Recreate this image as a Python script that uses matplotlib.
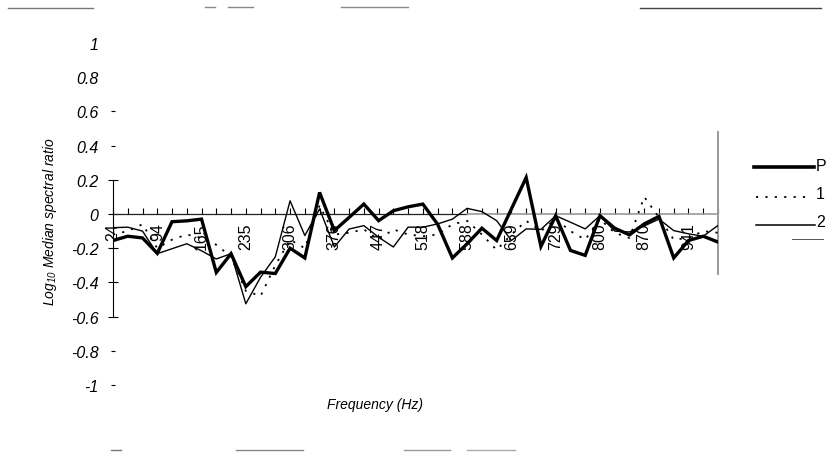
import matplotlib
matplotlib.use("Agg")
import matplotlib.pyplot as plt
from matplotlib.lines import Line2D

plt.rcParams.update({
    "font.family": ["Liberation Sans", "DejaVu Sans"],
    "mathtext.fontset": "custom",
    "mathtext.it": "Liberation Sans:italic",
    "mathtext.rm": "Liberation Sans:italic",
    "figure.facecolor": "white",
    "axes.facecolor": "white",
})

# -----------------------------
# Data
# -----------------------------
freq = [24, 47, 71, 94, 118, 141, 165, 188, 212, 235, 259, 282, 306, 329,
        353, 376, 400, 424, 447, 471, 494, 518, 541, 565, 588, 612, 635, 659,
        682, 706, 729, 753, 776, 800, 823, 847, 870, 894, 918, 941, 965, 988]

ratio_p = [-0.155, -0.13, -0.14, -0.23, -0.045, -0.04, -0.03, -0.342, -0.232,
           -0.425, -0.34, -0.348, -0.20, -0.257, 0.126, -0.097, -0.02, 0.058,
           -0.039, 0.019, 0.042, 0.058, -0.06, -0.257, -0.174, -0.083, -0.155,
           0.03, 0.213, -0.19, -0.01, -0.213, -0.242, -0.01, -0.083, -0.122,
           -0.058, -0.014, -0.257, -0.155, -0.13, -0.164]

ratio_1 = [-0.12, -0.10, -0.06, -0.20, -0.15, -0.12, -0.14, -0.18, -0.25,
           -0.45, -0.48, -0.30, -0.15, -0.20, 0.05, -0.12, -0.11, -0.09,
           -0.15, -0.09, -0.12, -0.13, -0.12, -0.06, -0.04, -0.12, -0.21,
           -0.12, -0.04, -0.10, -0.03, -0.10, -0.15, -0.03, -0.11, -0.14,
           0.10, -0.02, -0.15, -0.14, -0.10, -0.11]

ratio_2 = [-0.08, -0.077, -0.10, -0.232, -0.203, -0.174, -0.215, -0.263, -0.232,
           -0.525, -0.37, -0.25, 0.077, -0.126, 0.03, -0.193, -0.088, -0.068,
           -0.136, -0.193, -0.077, -0.077, -0.058, -0.03, 0.033, 0.014, -0.039,
           -0.155, -0.087, -0.09, -0.01, -0.048, -0.087, -0.01, -0.10, -0.105,
           -0.07, -0.03, -0.097, -0.116, -0.13, -0.067]

ytick_vals = [1, 0.8, 0.6, 0.4, 0.2, 0, -0.2, -0.4, -0.6, -0.8, -1]
ytick_text = ["1", "0.8", "0.6", "0.4", "0.2", "0", "-0.2", "-0.4", "-0.6", "-0.8", "-1"]

W, H = 836, 456


def fx(x):
    return x / W


def fy(y):
    return 1 - y / H


fig = plt.figure(figsize=(W / 100, H / 100), dpi=100)
ax = fig.add_axes([fx(113), fy(386), fx(718) - fx(113), fy(44) - fy(386)])

idx = list(range(len(freq)))
dots = (0, (1.2, 4))

# -----------------------------
# Series
# -----------------------------
ax.plot(idx, ratio_2, color="black", lw=1.0, zorder=3)
ax.plot(idx, ratio_1, color="black", lw=1.3, ls=dots, zorder=3)
ax.plot(idx, ratio_p, color="black", lw=2.4, zorder=4, solid_joinstyle="miter")

ax.set_xlim(0, len(freq) - 1)
ax.set_ylim(-1, 1)

# axes styling
for side in ["top", "right", "bottom"]:
    ax.spines[side].set_visible(False)
ax.spines["left"].set_bounds(-0.6, 0.2)
ax.spines["left"].set_linewidth(0.8)

# zero line: dark on the left, grey on the right (as in the scan)
ax.plot([0, 24], [0, 0], color="#222222", lw=0.9, zorder=1.6)
ax.plot([24, len(freq) - 1], [0, 0], color="#999999", lw=1.2, zorder=1.6)

ax.spines["bottom"].set_position(("data", 0))
ax.set_xticks(idx)
ax.set_xticklabels([str(f) if i % 3 == 0 else "" for i, f in enumerate(freq)],
                   rotation=90, fontsize=11.5, va="top", ha="center")
ax.tick_params(axis="x", direction="in", length=4, width=0.8, pad=6)
for i, t in enumerate(ax.xaxis.get_major_ticks()):
    if i >= 24:
        t.tick1line.set_color("#999999")

ax.set_yticks(ytick_vals)
ax.set_yticklabels(ytick_text, fontsize=11.5, style="italic")
ax.tick_params(axis="y", direction="inout", length=7, width=0.8, pad=7)
# the scan only keeps faint stubs of the outer ticks
for v, t in zip(ytick_vals, ax.yaxis.get_major_ticks()):
    if v >= 0.8:
        t.tick1line.set_visible(False)
    elif v >= 0.4 or v <= -0.8:
        t.tick1line.set_color("#888888")
        t.tick1line.set_markersize(3)

# right grey boundary line
ax.plot([len(freq) - 1] * 2, [0.48, -0.35], color="#999999", lw=1.4,
        clip_on=False, zorder=2)

# axis titles
fig.text(fx(50), fy(222), r"$Log_{10}$ Median spectral ratio", rotation=90,
         ha="center", va="center", fontsize=10, style="italic")
fig.text(fx(375), fy(405), "Frequency (Hz)", ha="center", va="center",
         fontsize=10, style="italic")

# -----------------------------
# Legend drawn by hand
# -----------------------------
fig.add_artist(Line2D([fx(754), fx(814)], [fy(168)] * 2, color="black", lw=2.6))
fig.text(fx(816), fy(167), "P", ha="left", va="center", fontsize=11.5)
fig.add_artist(Line2D([fx(756), fx(812)], [fy(198)] * 2, color="black",
                      lw=1.3, ls=dots))
fig.text(fx(816), fy(195), "1", ha="left", va="center", fontsize=11.5)
fig.add_artist(Line2D([fx(756), fx(815)], [fy(226)] * 2, color="black", lw=1.1))
fig.text(fx(816), fy(223), "2", ha="left", va="center", fontsize=11.5)
fig.add_artist(Line2D([fx(792), fx(823)], [fy(240)] * 2, color="#555555", lw=0.7))

# scan artefacts along the top and bottom edges
for x0, x1, y, c in [(8, 93, 9, "#777777"), (640, 821, 9, "#444444"),
                     (205, 215, 8, "#888888"), (228, 253, 8, "#888888"),
                     (341, 408, 8, "#888888"),
                     (111, 121, 451, "#777777"), (236, 303, 451, "#888888"),
                     (404, 450, 451, "#999999"), (467, 515, 451, "#aaaaaa")]:
    fig.add_artist(Line2D([fx(x0), fx(x1)], [fy(y)] * 2, color=c, lw=1.0))

fig.savefig("out.png", dpi=100)
